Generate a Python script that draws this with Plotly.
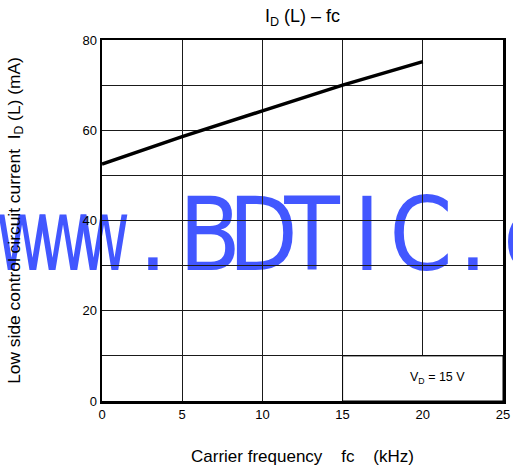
import plotly.graph_objects as go

# ---- data ----
fc_khz = [0, 5, 10, 15, 20]
id_ma = [52.5, 58.6, 64.3, 70.0, 75.2]

x_tick_vals = [0, 5, 10, 15, 20, 25]
y_tick_vals = [0, 20, 40, 60, 80]

condition_text = "V<sub>D</sub> = 15 V"
title_text = "I<sub>D</sub> (L) \u2013 fc"
x_title = "Carrier frequency\u00a0\u00a0\u00a0\u00a0fc\u00a0\u00a0\u00a0\u00a0(kHz)"
y_title = "Low side control circuit current\u00a0\u00a0I<sub>D</sub> (L) (mA)"

watermark_chars = ["w", "w", "w", ".", "B", "D", "T", "I", "C", ".", "c"]

# ---- layout constants ----
W, H = 513, 466
ML, MR, MT, MB = 102, 10, 40, 65
PW, PH = W - ML - MR, H - MT - MB
wm_px = [22, 63, 104, 153, 210, 263, 312, 367, 421, 473, 528]
wm_py = 228
FONT = "Liberation Sans, Arial, sans-serif"
WM_FONT = "Liberation Sans Narrow, DejaVu Sans Condensed, Arial Narrow, sans-serif"
WM_COLOR = "#4257ff"

fig = go.Figure()
fig.add_trace(go.Scatter(x=fc_khz, y=id_ma, mode="lines",
                         line=dict(color="black", width=3.5),
                         showlegend=False, hoverinfo="skip"))

shapes = []
for ch, px in zip(watermark_chars, wm_px):
    xp = (px - ML) / PW
    yp = (H - MB - wm_py) / PH
    shapes.append(dict(type="rect", xref="paper", yref="paper",
                       x0=xp - 0.001, x1=xp + 0.001, y0=yp - 0.001, y1=yp + 0.001,
                       line=dict(width=0), fillcolor="rgba(0,0,0,0)", layer="below",
                       label=dict(text=ch, textposition="middle center",
                                  font=dict(family=WM_FONT, size=101, color=WM_COLOR))))

# condition box
shapes.append(dict(type="rect", xref="x", yref="y", x0=15, x1=25, y0=0, y1=10,
                   fillcolor="white", line=dict(color="black", width=1), layer="between"))

fig.update_layout(
    template="none",
    width=W, height=H,
    margin=dict(l=ML, r=MR, t=MT, b=MB, autoexpand=False),
    paper_bgcolor="white",
    plot_bgcolor="rgba(0,0,0,0)",
    font=dict(family=FONT, color="black", size=13),
    title=dict(text=title_text, x=0.5, xref="paper", xanchor="center",
               y=1 - 15.5 / H, yref="container", yanchor="middle",
               font=dict(size=18, color="black")),
    shapes=shapes,
    annotations=[dict(text=condition_text, x=20.9, y=5, xref="x", yref="y",
                      showarrow=False, font=dict(size=12.5, color="black"))],
)

axis_common = dict(showline=True, linecolor="black", linewidth=2.5, mirror=True,
                   showgrid=True, gridcolor="#1a1a1a", gridwidth=1, automargin=False,
                   zeroline=False, ticks="", tickfont=dict(size=13, color="black"))

fig.update_xaxes(range=[0, 25], tickvals=x_tick_vals,
                 title=dict(text=x_title, font=dict(size=17, color="black"), standoff=30),
                 **axis_common)
fig.update_yaxes(range=[0, 80], tickvals=y_tick_vals,
                 minor=dict(dtick=10, showgrid=True, gridcolor="#1a1a1a", gridwidth=1, ticks=""),
                 title=dict(text=y_title, font=dict(size=17.4, color="black"), standoff=58),
                 **axis_common)

# remove the browser's default page margin; narrow the watermark "w" glyphs
# to match the condensed lettering of the reference
post = """
document.documentElement.style.margin = '0';
document.body.style.margin = '0';
document.body.style.overflow = 'hidden';
var gd = document.getElementById('{plot_id}');
gd.querySelectorAll('text').forEach(function(t){
  if (t.textContent === 'w') {
    t.style.transformBox = 'fill-box';
    t.style.transformOrigin = 'center';
    t.style.transform = 'scaleX(0.7)';
  }
});
"""

fig.write_html("out.html", post_script=post,
               config={"displayModeBar": False, "staticPlot": True})
